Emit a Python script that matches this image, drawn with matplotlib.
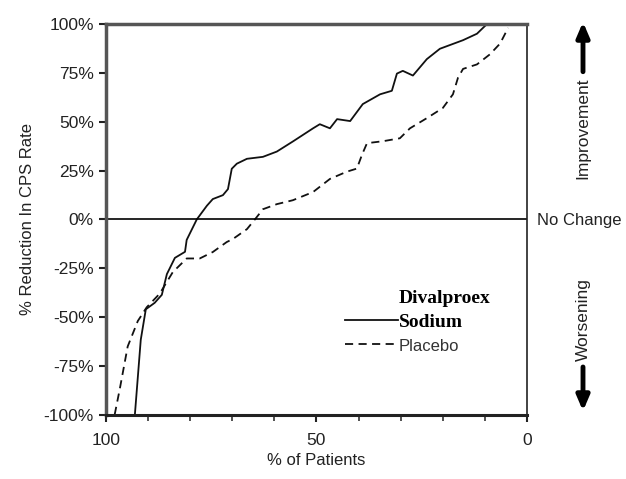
import matplotlib
matplotlib.use("Agg")
import matplotlib.pyplot as plt
from matplotlib.lines import Line2D

# % of patients (x, reversed axis) vs % reduction in CPS rate
dival_x = [93.1, 91.7, 90.5, 88.4, 86.7, 85.5, 83.6, 81.2, 80.8, 78.4, 76.0,
           74.6, 72.2, 71.0, 70.1, 68.9, 66.5, 62.7, 59.4, 55.5, 50.8, 49.2,
           46.8, 45.1, 42.0, 39.0, 34.9, 32.1, 30.9, 29.5, 27.1, 23.8, 20.7,
           15.2, 11.9, 9.5]
dival_y = [-100, -61.6, -46, -42.7, -38.6, -28, -19.7, -16.6, -10.5, 0, 7,
           10.4, 12.4, 15.5, 25.9, 28.5, 31, 32, 34.7, 40, 46.6, 48.7,
           46.6, 51.3, 50.3, 59, 64, 65.8, 74.6, 76, 73.6, 82, 87.3,
           91.7, 95, 100]

plac_x = [97.9, 96.7, 94.8, 92.4, 90.3, 87.2, 84.1, 80.8, 77.7, 74.6, 71.3,
          69.8, 66.5, 64.6, 62.7, 59.4, 55.6, 50.8, 46.8, 42.8, 40.4, 39.2,
          38.0, 34.2, 30.2, 27.8, 23.8, 20.0, 17.6, 16.4, 15.2, 11.9, 8.8,
          6.4, 4.5]
plac_y = [-100, -87, -65, -52, -45, -38, -27, -20, -20, -16.7, -11.6,
          -10, -5, 0, 5.2, 7.8, 9.8, 14, 20.7, 24.4, 26, 33,
          39, 40, 41.5, 46.6, 51.8, 57, 64, 72.5, 77, 79.3, 84.5,
          90, 98]

yticks = [100, 75, 50, 25, 0, -25, -50, -75, -100]
xticks = [100, 50, 0]

plt.rcParams['font.family'] = ['Liberation Sans', 'DejaVu Sans']

fig = plt.figure(figsize=(6.26, 4.79), dpi=100)
ax = fig.add_axes([0.169, 0.134, 0.673, 0.816])

solid, = ax.plot(dival_x, dival_y, color='#111111', lw=1.3)
dashed, = ax.plot(plac_x, plac_y, color='#111111', lw=1.3, ls=(0, (4.5, 3)))
ax.axhline(0, color='black', lw=1.2)

ax.set_xlim(100, 0)
ax.set_ylim(-100, 100)
ax.set_xticks(xticks)
ax.set_xticklabels([str(t) for t in xticks])
ax.set_xticks(range(0, 101, 10), minor=True)
ax.set_yticks(yticks)
ax.set_yticklabels([f'{t}%' for t in yticks])
ax.tick_params(axis='both', labelsize=12.5, colors='#222222', width=1.5, length=5)
ax.tick_params(axis='x', which='minor', length=4, width=1.2, color='#333333')
ax.tick_params(axis='x', pad=8)

for s in ['left', 'top']:
    ax.spines[s].set_linewidth(2.5)
    ax.spines[s].set_color('#555555')
ax.spines['bottom'].set_linewidth(2.2)
ax.spines['bottom'].set_color('#222222')
ax.spines['right'].set_linewidth(1.2)
ax.spines['right'].set_color('#222222')

ax.set_ylabel('% Reduction In CPS Rate', fontsize=12, color='#222222', labelpad=6)
ax.set_xlabel('% of Patients', fontsize=12, color='#222222', labelpad=4)

blank = Line2D([], [], color='none')
leg = ax.legend([blank, solid, dashed], ['Divalproex', 'Sodium', 'Placebo'],
                loc='upper left', bbox_to_anchor=(0.568, 0.322), frameon=False,
                borderpad=0, borderaxespad=0, handlelength=2.7,
                handletextpad=0.05, labelspacing=0.33, fontsize=14)
for t in leg.get_texts()[:2]:
    t.set_fontfamily('Liberation Serif')
    t.set_fontweight('bold')
leg.get_texts()[2].set_fontsize(12)
leg.get_texts()[2].set_color('#333333')

# right-hand annotations
fig.text(537 / 626, 1 - 220 / 479, 'No Change', fontsize=12, color='#222222',
         ha='left', va='center')
arrow = dict(arrowstyle='-|>,head_length=0.7,head_width=0.3', color='black',
             lw=3.5, shrinkA=2, shrinkB=0)
ax.annotate('Improvement', xy=(583 / 626, 1 - 22 / 479),
            xycoords='figure fraction', xytext=(583 / 626, 1 - 128 / 479),
            textcoords='figure fraction', rotation=90, ha='center',
            va='center', fontsize=12.5, color='#222222', arrowprops=arrow,
            annotation_clip=False)
ax.annotate('Worsening', xy=(583 / 626, 1 - 411 / 479),
            xycoords='figure fraction', xytext=(583 / 626, 1 - 320 / 479),
            textcoords='figure fraction', rotation=90, ha='center',
            va='center', fontsize=12.5, color='#222222', arrowprops=arrow,
            annotation_clip=False)

fig.savefig('out.png', dpi=100)
